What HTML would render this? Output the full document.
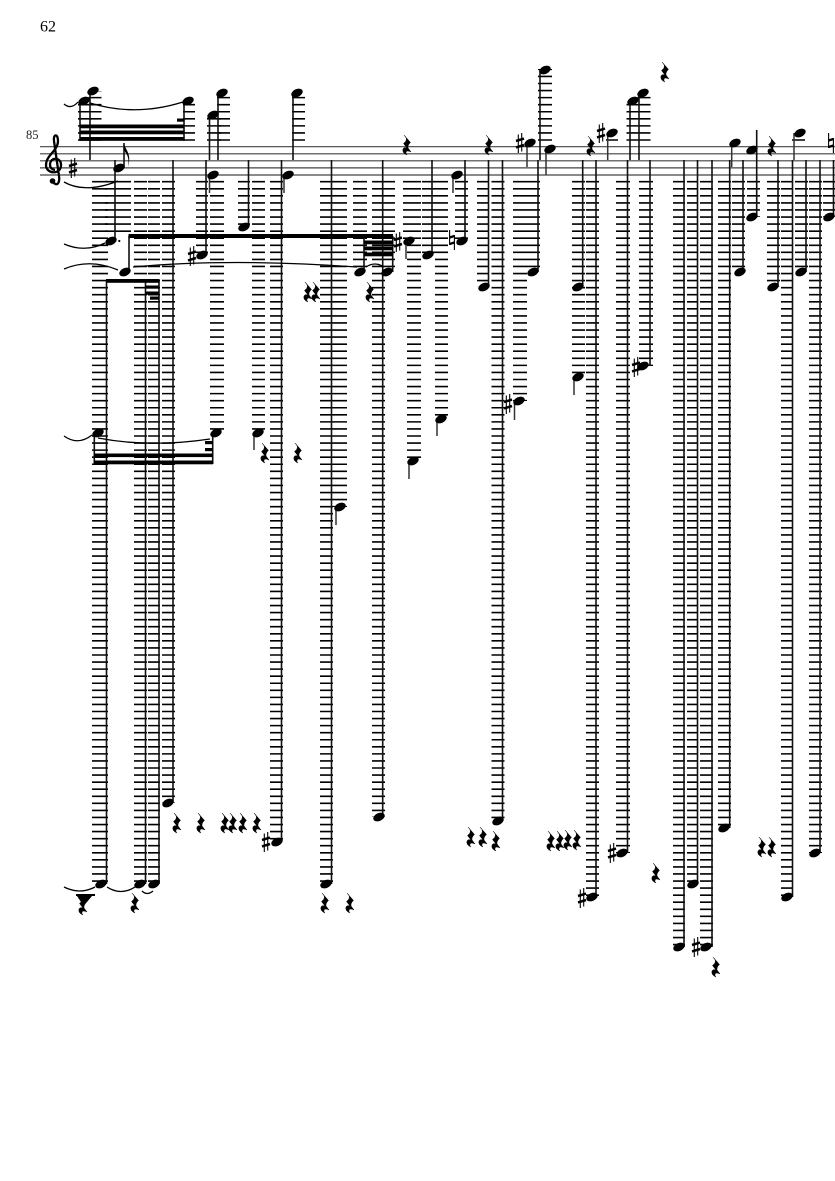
<!DOCTYPE html>
<html><head><meta charset="utf-8"><style>
html,body{margin:0;padding:0;background:#fff}
svg{display:block}
</style></head><body>
<svg xmlns="http://www.w3.org/2000/svg" width="835" height="1181" viewBox="0 0 835 1181">
<defs>
<ellipse id="n" cx="0" cy="0" rx="6" ry="3.900" transform="rotate(-24)" fill="#000"/>
<path id="r" fill="#000" stroke="#000" stroke-width=".5" d="M-3-10L3.500-2.500Q.5 0 1 3L4 7Q0 5-1 7Q-1.500 9 0 10Q-5 8-4 4Q-3 2 0 3L-3.500-1.500Q-.5-3.500-.5-6Q-1-8-3-10Z"/>
<g id="s" fill="none" stroke="#000"><path d="M-1.700-8.500V10M1.700-10V8.500" stroke-width="1.100"/><path d="M-4-2L4-4.400M-4 4.400L4 2" stroke-width="2.500"/></g>
<g id="h" fill="none" stroke="#000"><path d="M-2.400-10V5M2.400-5V10" stroke-width="1.100"/><path d="M-2.400-2.500L2.400-4M-2.400 4L2.400 2.500" stroke-width="2.300"/></g>
</defs>
<rect width="835" height="1181" fill="#fff"/>
<text x="40" y="31.500" font-family="Liberation Serif, serif" font-size="16" fill="#000">62</text>
<text x="26" y="139" font-family="Liberation Serif, serif" font-size="12.500" fill="#222">85</text>

<!-- staff -->
<path d="M40 146.700H835M40 153.800H835M40 160.800H835M40 167.900H835M40 175H835" stroke="#444" stroke-width="1.200" fill="none"/>

<!-- ledger lines below -->
<g fill="none" stroke="#000" stroke-dasharray="1.6 5.464">
<path stroke-width="16" d="M100 180.900V884"/>
<path stroke-width="26" d="M118 180.900V233"/>
<path stroke-width="13" d="M140.500 180.900V884M168.500 180.900V803M258.500 180.900V433M276.500 180.900V842M326.500 180.900V884M378.500 180.900V817M428.500 180.900V255M441.500 180.900V419M461.500 180.900V241M498 180.900V821M533.500 180.900V272M578.500 180.900V377M592.500 180.900V897M706.500 180.900V947M724.500 180.900V828M738.500 180.900V272M753.500 180.900V217M773.500 180.900V287M801.500 180.900V272M815.500 180.900V853"/>
<path stroke-width="12" d="M154 180.900V884M202 180.900V255M244 180.900V227M483 180.900V287M679 180.900V947M787 180.900V897M829 180.900V217"/>
<path stroke-width="14" d="M217 180.900V433M340 180.900V507M360 180.900V272M410 180.900V241M414 180.900V461M520 180.900V401M623 180.900V853M646 180.900V366"/>
<path stroke-width="10" d="M390 180.900V272"/>
<path stroke-width="11" d="M692.500 180.900V884"/>
</g>
<!-- ledger lines above -->
<g fill="none" stroke="#000" stroke-dasharray="1.6 5.464">
<path stroke-width="14" d="M85 140.800V101M214 140.800V115M545 140.800V69"/>
<path stroke-width="13" d="M95 140.800V91M223.500 140.800V93M298.500 140.800V93M633 140.800V101M644 140.800V93M798.500 140.800V139"/>
<path stroke-width="12" d="M189 140.800V101M612 140.800V139"/>
</g>

<!-- clef and key -->
<g fill="none" stroke="#000">
<path stroke-width="2.300" d="M53 182C57 187 60 183 59 176L54 141C53 134 58 133 58 141C58 151 46 155 46 165C46 174 60 175 61 166C62 157 50 156 50 165C50 168 53 170 55 170"/>
</g>
<circle cx="52.500" cy="181" r="2.800" fill="#000"/>
<use href="#s" x="73" y="168"/>

<!-- stems -->
<path fill="none" stroke="#111" stroke-width="1.600" d="M115 160V241M173 160V803M206 160V255M248.500 160V227M281.500 160V842M331.500 160V884M382.700 160V817M432 160V255M465 160V241M488.500 160V287M502.500 160V821M538 160V272M582.700 160V287M596 160V897M627.500 160V853M650 160V366M684 160V947M697.500 160V884M712 160V947M729.700 160V828M743 160V272M778 160V287M792.500 160V897M806 160V272M820 160V853M833.500 160V217M106.500 281V884M145.500 281V884M159 281V884M129 236V272M364 236V272M392.700 236V272M94.300 433V464M212.700 433V464M80 101V141M184 101V141M90 91V160M209.500 115V160M218 93V160M293 93V160M540 70V160M630 101V160M639 93V160M756.700 130V217M124 143V168"/>
<path fill="none" stroke="#333" stroke-width="1.500" d="M209.500 175V193M254 433V450M284 175V193M336 507V525M406 241V259M409 461V479M437 419V436M453 175V193M514.500 401V420M527 143V167M546 149V175M574 377V395M607.700 133V160M731.700 143V167M794 133V160"/>

<!-- beams -->
<g fill="#000">
<rect x="79.500" y="124.500" width="105" height="3.800"/>
<rect x="79.500" y="130.500" width="105" height="3.800"/>
<rect x="79.500" y="137" width="105" height="3.800"/>
<rect x="177" y="118.500" width="7.500" height="3.200"/>
<rect x="128.500" y="234" width="264.500" height="4"/>
<rect x="364" y="240.500" width="29" height="3.800"/>
<rect x="364" y="246.500" width="29" height="3.800"/>
<rect x="364" y="252.500" width="29" height="3.800"/>
<rect x="106" y="279" width="53.500" height="3.800"/>
<rect x="145" y="285.500" width="14" height="3.200"/>
<rect x="145" y="291.500" width="14" height="3.200"/>
<rect x="150" y="296.500" width="9" height="3.200"/>
<rect x="94" y="453.500" width="119" height="3.600"/>
<rect x="94" y="460.500" width="119" height="3.800"/>
<rect x="205" y="441" width="8" height="3.200"/>
<rect x="205" y="448" width="8" height="3.200"/>
<rect x="76" y="894" width="19" height="2"/>
<path d="M77 896H92L87 902H81Z"/>
<path d="M124 143C125 150 132 153 128 167C130 155 125 153 124 150Z"/>
<circle cx="119.300" cy="241" r="1.100"/>
</g>

<!-- ties -->
<path fill="none" stroke="#000" stroke-width="1.300" d="M64 104Q71 110 78 102M90 103Q135 117 183 102M64 182Q85 194 118 181M64 244Q85 253 105 243M64 269Q90 258 118 270M133 267Q230 258 357 267M366 267Q375 261 384 267M64 436Q78 446 92 435M98 438Q150 448 210 439M64 887Q80 895 95 887M107 887Q121 896 135 887M142 891Q147 896 153 891"/>

<!-- note heads -->
<g>
<use href="#n" x="84" y="101"/><use href="#n" x="93" y="91"/><use href="#n" x="188" y="101"/>
<use href="#n" x="222" y="93"/><use href="#n" x="213" y="115"/><use href="#n" x="213" y="175"/>
<use href="#n" x="297" y="93"/><use href="#n" x="288" y="175"/><use href="#n" x="119" y="168"/>
<use href="#n" x="111" y="241"/><use href="#n" x="125" y="272"/><use href="#n" x="202" y="255"/>
<use href="#n" x="244" y="227"/><use href="#n" x="258" y="433"/><use href="#n" x="98" y="433"/>
<use href="#n" x="216" y="433"/><use href="#n" x="101" y="884"/><use href="#n" x="140" y="884"/>
<use href="#n" x="154" y="884"/><use href="#n" x="168" y="803"/><use href="#n" x="277" y="842"/>
<use href="#n" x="326" y="884"/><use href="#n" x="340" y="507"/><use href="#n" x="360" y="272"/>
<use href="#n" x="387" y="272"/><use href="#n" x="379" y="817"/><use href="#n" x="409" y="241"/>
<use href="#n" x="428" y="255"/><use href="#n" x="413" y="461"/><use href="#n" x="441" y="419"/>
<use href="#n" x="457" y="175"/><use href="#n" x="462" y="241"/><use href="#n" x="484" y="287"/>
<use href="#n" x="498" y="821"/><use href="#n" x="530" y="143"/><use href="#n" x="545" y="70"/>
<use href="#n" x="550" y="149"/><use href="#n" x="533" y="272"/><use href="#n" x="519" y="401"/>
<use href="#n" x="578" y="287"/><use href="#n" x="578" y="377"/><use href="#n" x="592" y="897"/>
<use href="#n" x="612" y="133"/><use href="#n" x="633" y="101"/><use href="#n" x="643" y="93"/>
<use href="#n" x="622" y="853"/><use href="#n" x="643" y="366"/><use href="#n" x="679" y="947"/>
<use href="#n" x="693" y="884"/><use href="#n" x="706" y="947"/><use href="#n" x="735" y="143"/>
<use href="#n" x="724" y="828"/><use href="#n" x="740" y="272"/><use href="#n" x="752" y="150"/>
<use href="#n" x="752" y="217"/><use href="#n" x="773" y="287"/><use href="#n" x="787" y="897"/>
<use href="#n" x="800" y="133"/><use href="#n" x="801" y="272"/><use href="#n" x="815" y="853"/>
<use href="#n" x="829" y="217"/>
</g>

<!-- accidentals -->
<use href="#s" x="192" y="256"/><use href="#s" x="398" y="242"/><use href="#s" x="520" y="143"/>
<use href="#s" x="508" y="404"/><use href="#s" x="582" y="898"/><use href="#s" x="601" y="133"/>
<use href="#s" x="612" y="853"/><use href="#s" x="636" y="367"/><use href="#s" x="696" y="947"/>
<use href="#s" x="266" y="842"/>
<use href="#h" x="452" y="240"/><use href="#h" x="831" y="143"/>

<!-- rests -->
<g>
<use href="#r" x="177" y="823"/><use href="#r" x="201" y="823"/><use href="#r" x="225" y="823"/>
<use href="#r" x="233" y="823"/><use href="#r" x="243" y="823"/><use href="#r" x="257" y="823"/>
<use href="#r" x="325" y="903"/><use href="#r" x="350" y="903"/><use href="#r" x="135" y="903"/>
<use href="#r" x="83" y="905"/>
<use href="#r" x="471" y="837"/><use href="#r" x="483" y="837"/><use href="#r" x="496" y="841"/>
<use href="#r" x="551" y="841"/><use href="#r" x="560" y="841"/><use href="#r" x="568" y="840"/>
<use href="#r" x="577" y="840"/><use href="#r" x="656" y="873"/><use href="#r" x="716" y="967"/>
<use href="#r" x="762" y="847"/><use href="#r" x="772" y="847"/>
<use href="#r" x="407" y="145"/><use href="#r" x="489" y="145"/><use href="#r" x="308" y="292"/>
<use href="#r" x="316" y="292"/><use href="#r" x="370" y="292"/><use href="#r" x="591" y="146"/>
<use href="#r" x="665" y="72"/><use href="#r" x="772" y="146"/><use href="#r" x="265" y="453"/>
<use href="#r" x="298" y="453"/>
</g>
</svg>
</body></html>
